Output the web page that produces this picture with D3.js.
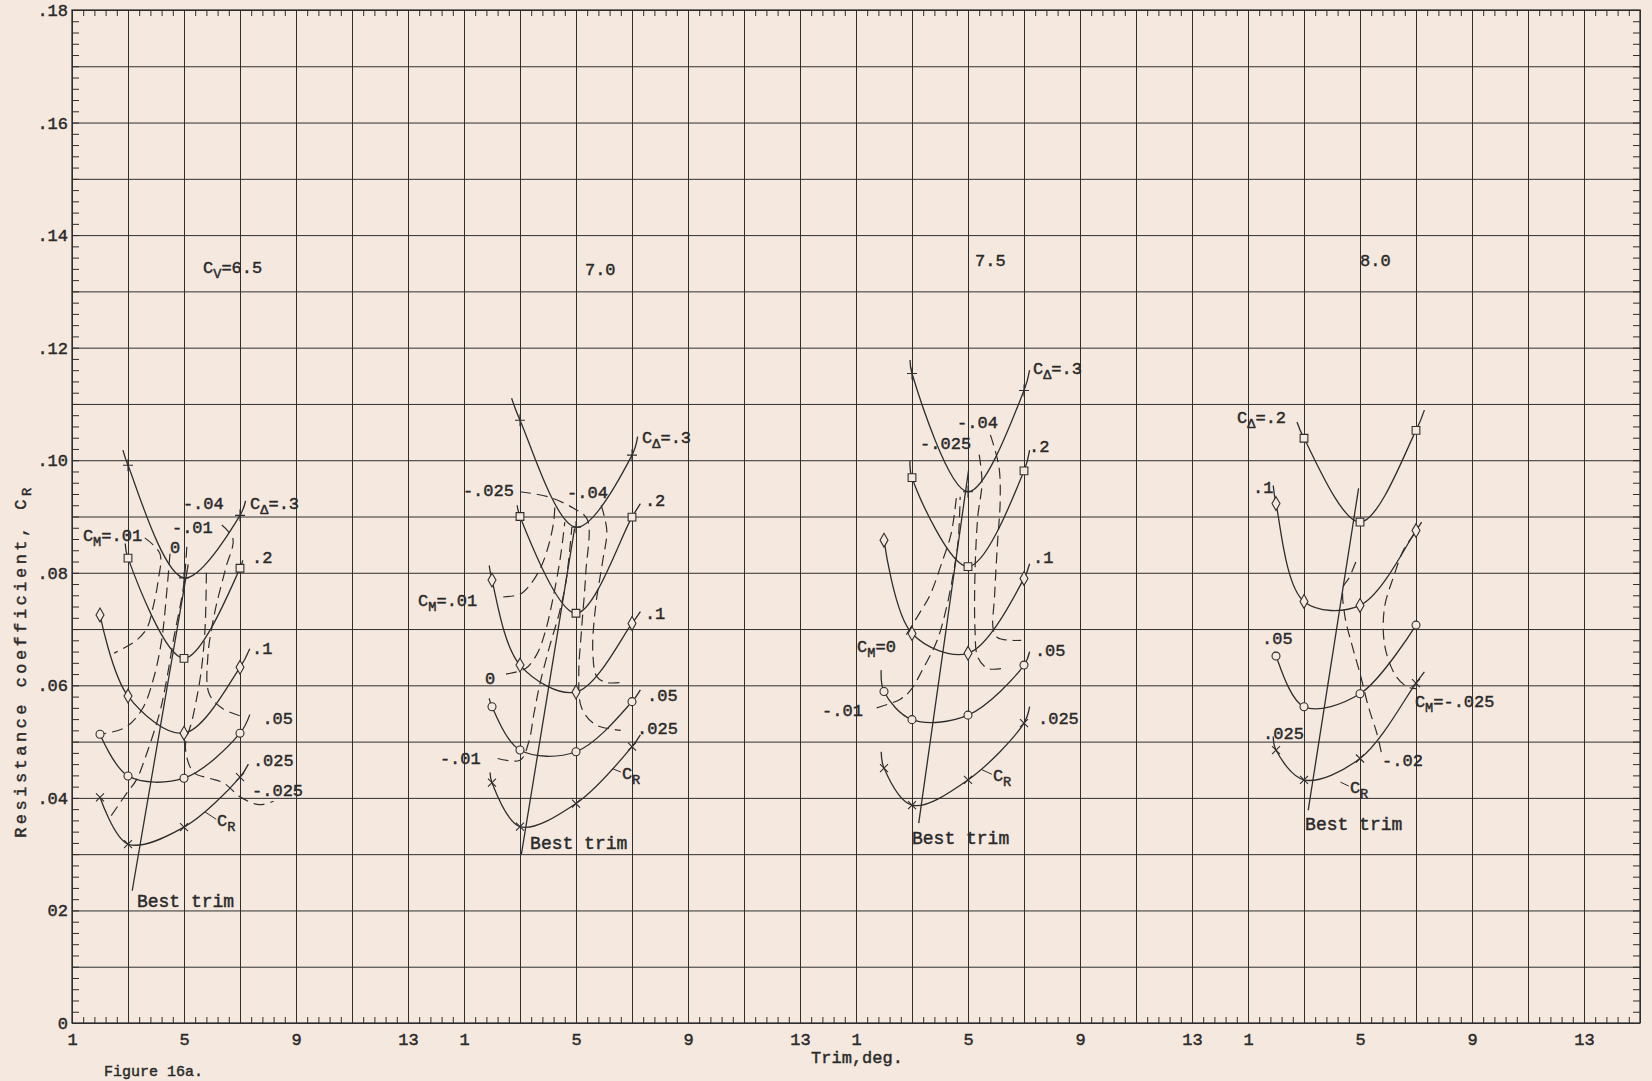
<!DOCTYPE html>
<html>
<head>
<meta charset="utf-8">
<script src="https://cdn.jsdelivr.net/npm/d3@7"></script>
<style>
  html, body { margin: 0; padding: 0; background: #f5e9df; }
  svg { display: block; }
  text { font-family: 'Liberation Mono', 'DejaVu Sans Mono', monospace; fill: #2a2a2a; stroke: #2a2a2a; stroke-width: 0.45px; }
</style>
</head>
<body>
<div id="chart"></div>
<script>
// panel titles (speed coefficient) and axis ticks
const panelTitles = ['C_V=6.5', '7.0', '7.5', '8.0']
const titlePos = [[5.68, .1343], [5.32, .1339], [5.25, .1355], [5.0, .1355]]
const trimTicks = [1, 5, 9, 13]
const yTickValues = [0, .02, .04, .06, .08, .10, .12, .14, .16, .18]
const yTickLabels = ['0', '02', '.04', '.06', '.08', '.10', '.12', '.14', '.16', '.18']
const testTrims = [2, 3, 5, 7]

// load coefficient curves, C_delta : [trim, C_R]
const load65 = [
  ['.3', [[2.82, .1018], [3, .0991], [5, .0791], [7, .0902], [7.2, .0928]]],
  ['.2', [[2.9, .0852], [3, .0826], [5, .0648], [7, .0808], [7.1, .0822]]],
  ['.1', [[2, .0725], [3, .0581], [5, .0515], [7, .0632], [7.35, .0665]]],
  ['.05', [[2, .0513], [3, .0439], [5, .0435], [7, .0515], [7.35, .0548]]],
  ['.025', [[2, .0401], [3, .0318], [5, .0348], [7, .0437], [7.3, .0460]]]
]
const load70 = [
  ['.3', [[2.7, .1110], [3, .1071], [5, .0881], [7, .1009], [7.2, .1042]]],
  ['.2', [[2.9, .0920], [3, .0900], [5, .0728], [7, .0899], [7.3, .0923]]],
  ['.1', [[1.9, .0813], [2, .0787], [3, .0636], [5, .0588], [7, .0710], [7.3, .0731]]],
  ['.05', [[1.9, .0577], [2, .0562], [3, .0485], [5, .0482], [7, .0571], [7.3, .0592]]],
  ['.025', [[1.93, .0445], [2, .0427], [3, .0349], [5, .0390], [7, .0491], [7.3, .0512]]]
]
const load75 = [
  ['.3', [[2.93, .1178], [3, .1154], [5, .0944], [7, .1124], [7.2, .1160]]],
  ['.2', [[2.93, .0999], [3, .0969], [5, .0811], [7, .0981], [7.2, .1018]]],
  ['.1', [[2, .0858], [3, .0692], [5, .0657], [7, .0790], [7.2, .0816]]],
  ['.05', [[1.9, .0627], [2, .0589], [3, .0539], [5, .0547], [7, .0636], [7.2, .0660]]],
  ['.025', [[1.9, .0482], [2, .0453], [3, .0387], [5, .0432], [7, .0533], [7.2, .0562]]]
]
const load80 = [
  ['.2', [[2.75, .1068], [3, .1039], [5, .0890], [7, .1053], [7.3, .1089]]],
  ['.1', [[1.9, .0955], [2, .0923], [3, .0749], [5, .0742], [7, .0875], [7.2, .0890]]],
  ['.05', [[1.95, .0660], [2, .0652], [3, .0562], [5, .0585], [7, .0707]]],
  ['.025', [[1.9, .0509], [2, .0485], [3, .0432], [5, .0470], [7, .0604], [7.3, .0624]]]
]

// trim moment curves, C_M (dashed)
const moment65 = [
  ['.01', [[3.6, .0862], [4.14, .0834], [4.08, .0787], [3.9, .0740], [3.67, .0701], [3.3, .0680], [2.5, .0657]]],
  ['0', [[4.5, .0834], [4.4, .0775], [4.2, .0680], [3.9, .0610], [3.5, .0557], [2.9, .0525], [2.0, .0513]]],
  ['-.01', [[5.1, .0846], [4.98, .0775], [4.62, .0680], [4.38, .0610], [4.14, .0553], [3.67, .0479], [3.3, .0432], [2.95, .0408], [2.3, .0361]]],
  ['-.025', [[5.8, .0800], [5.75, .0700], [5.6, .0620], [5.3, .0540], [5.05, .0490], [5.35, .0445], [5.9, .0435], [6.4, .0427], [7.06, .0400], [7.7, .0388], [8.2, .0394]]],
  ['-.04', [[6.35, .0885], [6.75, .0860], [6.5, .0810], [6.1, .0730], [5.85, .0650], [5.9, .0585], [6.4, .0558], [7.06, .0545]]]
]
const moment70 = [
  ['.01', [[2.4, .0757], [3.0, .0762], [3.3, .0775], [3.7, .0805], [4.0, .0845], [4.2, .0890], [4.25, .0925]]],
  ['0', [[2.5, .0620], [3.2, .0630], [3.6, .0655], [3.9, .0695], [4.2, .0760], [4.45, .0830], [4.6, .0890]]],
  ['-.01', [[2.2, .0470], [3.0, .0467], [3.3, .0497], [3.5, .0550], [3.7, .0600], [4.05, .0668], [4.4, .0728], [4.65, .0787], [4.85, .0880]]],
  ['-.025', [[3.0, .0944], [4.0, .0935], [4.9, .0915], [5.4, .0895], [5.35, .0800], [5.2, .0700], [5.1, .0620], [5.2, .0560], [5.7, .0530], [6.6, .0520]]],
  ['-.04', [[5.9, .0920], [6.1, .0875], [5.95, .0820], [5.7, .0740], [5.6, .0660], [5.75, .0615], [6.1, .0605], [6.6, .0605]]]
]
const moment75 = [
  ['0', [[2.8, .0690], [3.29, .0730], [3.64, .0760], [4.1, .0823], [4.4, .0870], [4.6, .0940]]],
  ['-.01', [[1.74, .0560], [2.57, .0575], [2.93, .0590], [3.4, .0630], [3.9, .0680], [4.24, .0740], [4.48, .0800], [4.65, .0858], [4.72, .0935]]],
  ['-.025', [[5.4, .1010], [5.5, .0960], [5.35, .0900], [5.25, .0800], [5.25, .0700], [5.35, .0650], [5.7, .0630], [6.2, .0630]]],
  ['-.04', [[5.8, .1045], [6.1, .0990], [6.15, .0930], [6.05, .0850], [5.95, .0760], [5.9, .0700], [6.05, .0685], [6.5, .0680], [6.9, .0680]]]
]
const moment80 = [
  ['-.02', [[4.85, .0819], [4.6, .0790], [4.4, .0775], [4.46, .0723], [4.7, .0674], [5.0, .0621], [5.3, .0562], [5.6, .0515], [5.77, .0479]]],
  ['-.025', [[6.96, .0870], [6.55, .0840], [6.2, .0793], [5.9, .0745], [5.83, .0698], [5.95, .0656], [6.3, .0615], [6.7, .0597], [7.0, .0594]]]
]

// best trim lines
const best65 = [[3.15, .0235], [5.15, .0815]]
const best70 = [[3.05, .0300], [4.95, .0879]]
const best75 = [[3.24, .0355], [5.02, .0982]]
const best80 = [[3.15, .0378], [4.95, .0950]]

// curve labels [text, trim, C_R]
const labels65 = [['-.04', 4.96, .0924], ['C_Δ=.3', 7.36, .0924], ['-.01', 4.57, .0881], ['C_M=.01', 1.39, .0867],
  ['0', 4.5, .0845], ['.2', 7.43, .0828], ['.1', 7.43, .0666], ['.05', 7.8, .0542], ['.025', 7.46, .0467],
  ['-.025', 7.43, .0414], ['C_R', 6.18, .0361], ['Best trim', 3.32, .0218]]
const labels70 = [['C_Δ=.3', 7.36, .1041], ['-.025', 0.96, .0947], ['-.04', 4.68, .0943], ['.2', 7.46, .0929],
  ['C_M=.01', -0.64, .0751], ['.1', 7.46, .0728], ['0', 1.75, .0613], ['.05', 7.54, .0583], ['.025', 7.18, .0524],
  ['-.01', 0.14, .0471], ['C_R', 6.64, .0444], ['Best trim', 3.36, .0320]]
const labels75 = [['C_Δ=.3', 7.32, .1163], ['-.04', 4.61, .1067], ['-.025', 3.29, .1030], ['.2', 7.18, .1025],
  ['.1', 7.32, .0828], ['C_M=0', 1.04, .0670], ['.05', 7.39, .0663], ['-.01', -0.21, .0556], ['.025', 7.5, .0542],
  ['C_R', 5.89, .0440], ['Best trim', 3.0, .0330]]
const labels80 = [['C_Δ=.2', 0.61, .1076], ['.1', 1.18, .0952], ['.05', 1.5, .0684], ['C_M=-.025', 6.96, .0572],
  ['.025', 1.54, .0515], ['-.02', 5.79, .0467], ['C_R', 4.64, .0419], ['Best trim', 3.04, .0355]]

// short leaders to the C_R labels
const leaders = [[[5.75, .0375], [6.15, .0362]], [[6.3, .0452], [6.6, .0446]], [[5.5, .0450], [5.85, .0442]], [[4.3, .0428], [4.6, .0421]]]

const panels = [
  { load: load65, moment: moment65, best: best65, labels: labels65 },
  { load: load70, moment: moment70, best: best70, labels: labels70 },
  { load: load75, moment: moment75, best: best75, labels: labels75 },
  { load: load80, moment: moment80, best: best80, labels: labels80 }
]

const width = 1652
const height = 1081
const margin = { top: 10, left: 72, right: 12, bottom: 58 }
const plotRight = width - margin.right
const plotBottom = height - margin.bottom
const ink = '#2e2e2e'

const svg = d3
  .select('#chart')
  .append('svg')
  .attr('width', width)
  .attr('height', height)

svg.append('rect').attr('width', width).attr('height', height).attr('fill', '#f5e9df')

const xAll = d3.scaleLinear().domain([0, 56]).range([margin.left, plotRight])
const yScale = d3.scaleLinear().domain([0, 0.18]).range([plotBottom, margin.top])
const panelScales = d3.range(4).map(k =>
  d3.scaleLinear().domain([1, 15]).range([xAll(k * 14), xAll(k * 14 + 14)])
)

const plotW = plotRight - margin.left
const plotH = plotBottom - margin.top

function styleAxis(g) {
  g.select('.domain').remove()
  g.selectAll('line').attr('stroke', ink).attr('stroke-width', 1)
}

// grid
svg.append('g')
  .attr('transform', `translate(0,${plotBottom})`)
  .call(d3.axisBottom(xAll).tickValues(d3.range(0, 57, 2)).tickSize(-plotH).tickFormat(''))
  .call(styleAxis)
svg.append('g')
  .attr('transform', `translate(${margin.left},0)`)
  .call(d3.axisLeft(yScale).tickValues(d3.range(0, 19).map(i => i * 0.01)).tickSize(-plotW).tickFormat(''))
  .call(styleAxis)

// minor ticks on all four sides
const xMinor = d3.range(0, 141).map(i => i * 0.4)
const yMinor = d3.range(0, 91).map(i => i * 0.002)
svg.append('g').attr('transform', `translate(0,${plotBottom})`)
  .call(d3.axisBottom(xAll).tickValues(xMinor).tickSize(-6).tickFormat('')).call(styleAxis)
svg.append('g').attr('transform', `translate(0,${margin.top})`)
  .call(d3.axisTop(xAll).tickValues(xMinor).tickSize(-6).tickFormat('')).call(styleAxis)
svg.append('g').attr('transform', `translate(${margin.left},0)`)
  .call(d3.axisLeft(yScale).tickValues(yMinor).tickSize(-7).tickFormat('')).call(styleAxis)
svg.append('g').attr('transform', `translate(${plotRight},0)`)
  .call(d3.axisRight(yScale).tickValues(yMinor).tickSize(-7).tickFormat('')).call(styleAxis)

svg.append('rect')
  .attr('x', margin.left).attr('y', margin.top)
  .attr('width', plotW).attr('height', plotH)
  .attr('fill', 'none').attr('stroke', ink).attr('stroke-width', 1.3)

// tick labels
panelScales.forEach(ps => {
  svg.append('g')
    .attr('transform', `translate(0,${plotBottom})`)
    .call(d3.axisBottom(ps).tickValues(trimTicks).tickSize(0).tickPadding(10))
    .call(g => g.select('.domain').remove())
    .selectAll('text').attr('font-size', 17).attr('font-family', null)
})
svg.append('g')
  .attr('transform', `translate(${margin.left},0)`)
  .call(d3.axisLeft(yScale).tickValues(yTickValues).tickFormat((d, i) => yTickLabels[i]).tickSize(0).tickPadding(4))
  .call(g => g.select('.domain').remove())
  .selectAll('text').attr('font-size', 17).attr('font-family', null)

// text with one-letter subscript, e.g. C_M=.01
function richText(sel, str) {
  const m = str.match(/^(.*?)_(.)(.*)$/)
  if (!m) {
    sel.text(str)
    return
  }
  sel.append('tspan').text(m[1])
  sel.append('tspan').attr('dy', 5).attr('font-size', '0.8em').text(m[2])
  sel.append('tspan').attr('dy', -5).text(m[3])
}

svg.append('text')
  .attr('transform', `translate(26,${yScale(0.064)}) rotate(-90)`)
  .attr('text-anchor', 'middle')
  .attr('font-size', 17)
  .attr('textLength', 350)
  .attr('lengthAdjust', 'spacing')
  .call(richText, 'Resistance coefficient, C_R')

svg.append('text')
  .attr('x', 857).attr('y', 1063)
  .attr('text-anchor', 'middle')
  .attr('font-size', 17)
  .text('Trim,deg.')

svg.append('text')
  .attr('x', 104).attr('y', 1076)
  .attr('font-size', 15)
  .text('Figure 16a.')

// markers
const markerPath = {
  '.3': 'M-5,0H5M0,-6V6',
  '.2': d3.symbol(d3.symbolSquare, 60)(),
  '.1': d3.symbol(d3.symbolDiamond, 55)(),
  '.05': d3.symbol(d3.symbolCircle, 50)(),
  '.025': 'M-4,-4L4,4M-4,4L4,-4'
}

const curveLine = d3.curveCatmullRom.alpha(0.5)

panels.forEach((p, k) => {
  const px = panelScales[k]
  const line = d3.line().x(d => px(d[0])).y(d => yScale(d[1])).curve(curveLine)
  const g = svg.append('g').attr('class', 'panel')

  g.selectAll('.moment')
    .data(p.moment)
    .enter()
    .append('path')
    .attr('class', 'moment')
    .attr('d', d => line(d[1]))
    .attr('fill', 'none')
    .attr('stroke', ink)
    .attr('stroke-width', 1.2)
    .attr('stroke-dasharray', '11,6')

  g.selectAll('.load')
    .data(p.load)
    .enter()
    .append('path')
    .attr('class', 'load')
    .attr('d', d => line(d[1]))
    .attr('fill', 'none')
    .attr('stroke', ink)
    .attr('stroke-width', 1.3)

  g.append('path')
    .attr('d', d3.line().x(d => px(d[0])).y(d => yScale(d[1]))(p.best))
    .attr('fill', 'none')
    .attr('stroke', ink)
    .attr('stroke-width', 1.3)

  g.append('path')
    .attr('d', d3.line().x(d => px(d[0])).y(d => yScale(d[1]))(leaders[k]))
    .attr('stroke', ink)
    .attr('stroke-width', 1)

  p.load.forEach(([name, pts]) => {
    g.selectAll(null)
      .data(pts.filter(d => testTrims.includes(d[0])))
      .enter()
      .append('path')
      .attr('d', markerPath[name])
      .attr('transform', d => `translate(${px(d[0])},${yScale(d[1])})`)
      .attr('fill', '#f5e9df')
      .attr('stroke', ink)
      .attr('stroke-width', 1.1)
  })

  p.labels.forEach(([txt, t, v]) => {
    g.append('text')
      .attr('x', px(t))
      .attr('y', yScale(v))
      .attr('dy', '0.35em')
      .attr('font-size', txt === 'Best trim' ? 18 : 17)
      .call(richText, txt)
  })

  g.append('text')
    .attr('x', px(titlePos[k][0]))
    .attr('y', yScale(titlePos[k][1]))
    .attr('dy', '0.35em')
    .attr('font-size', 17)
    .call(richText, panelTitles[k])
})
</script>
</body>
</html>
